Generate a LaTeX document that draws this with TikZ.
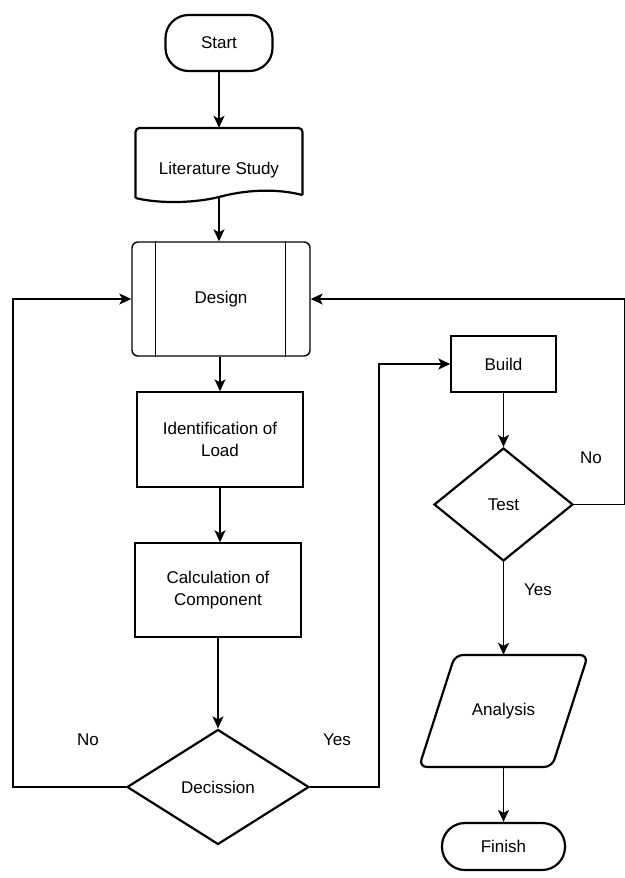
\documentclass[tikz,border=0pt]{standalone}
\usepackage{fontspec}
\setmainfont{Liberation Sans}
\usetikzlibrary{arrows.meta,shapes.geometric,calc}
\begin{document}
\begin{tikzpicture}[x=1pt,y=-1pt,
  every node/.style={font=\fontsize{17}{22}\selectfont, align=center, inner sep=0pt},
  thickb/.style={draw, line width=2.2pt},
  thinb/.style={draw, line width=1.4pt},
  term/.style={thickb, rounded corners=23pt},
  proc/.style={thinb, minimum width=166pt, minimum height=95pt},
  decbox/.style={thickb, diamond},
  arr/.style={line width=1.4pt, -{Stealth[length=12pt,width=11pt,inset=3pt]}},
  lbl/.style={font=\fontsize{17}{22}\selectfont}
]
\useasboundingbox (0,0) rectangle (624,878);

% nodes
\node[term, minimum width=107pt, minimum height=56pt] (start) at (219,43) {Start};

\node[minimum width=167pt, minimum height=70pt] (lit) at (219,163) {};
\draw[line width=2.2pt, rounded corners=4pt] (135.5,198) -- (135.5,128) -- (302.5,128) -- (302.5,195);
\draw[line width=2.2pt] (302.5,195) .. controls (275,188) and (245,190) .. (219,197) .. controls (195,203) and (160,204) .. (135.5,198);
\node[lbl] (littxt) at (219,170) {Literature Study};

\node[thinb, rounded corners=6pt, minimum width=178pt, minimum height=114pt] (design) at (221,299) {Design};
\draw[line width=1.4pt] ([xshift=24pt]design.north west) -- ([xshift=24pt]design.south west);
\draw[line width=1.4pt] ([xshift=-25pt]design.north east) -- ([xshift=-25pt]design.south east);

\node[proc] (ident) at (220,439.5) {Identification of\\Load};
\node[proc, minimum height=94pt] (calc) at (218,590) {Calculation of\\Component};
\node[decbox, minimum width=182pt, minimum height=115pt] (dec) at (218,787) {Decission};

\node[thinb, minimum width=105pt, minimum height=56pt] (build) at (503.5,364) {Build};
\node[decbox, minimum width=139pt, minimum height=113pt] (test) at (503.5,504.5) {Test};

\node[minimum width=100pt, minimum height=112pt] (anal) at (503.5,711) {Analysis};
\draw[line width=2.2pt, rounded corners=8pt] (520,655) -- (588,655) -- (552,767) -- (419,767) -- (455,655) -- cycle;

\node[term, minimum width=123pt, minimum height=47pt] (finish) at (503.5,846.5) {Finish};

% labels
\node[lbl] (no1) at (88,740) {No};
\node[lbl] (yes1) at (337,740) {Yes};
\node[lbl] (no2) at (591,458) {No};
\node[lbl] (yes2) at (538,590) {Yes};

% connectors
\coordinate (lloop) at (13,787);
\coordinate (rloop) at (379,787);
\coordinate (tloop) at (624.5,504.5);

\draw[arr] (start.south) -- (lit.north);
\draw[arr] (lit.south) -- (design.north -| lit.south);
\draw[arr] (design.south -| ident.north) -- (ident.north);
\draw[arr] (ident.south) -- (calc.north -| ident.south);
\draw[arr] (calc.south) -- (dec.north);
\draw[arr] (dec.west) -- (lloop) |- (design.west);
\draw[arr] (dec.east) -- (rloop) |- (build.west);
\draw[arr] (build.south) -- (test.north);
\draw[arr] (test.east) -- (tloop) |- (design.east);
\draw[arr] (test.south) -- (anal.north);
\draw[arr] (anal.south) -- (finish.north);
\end{tikzpicture}
\end{document}
